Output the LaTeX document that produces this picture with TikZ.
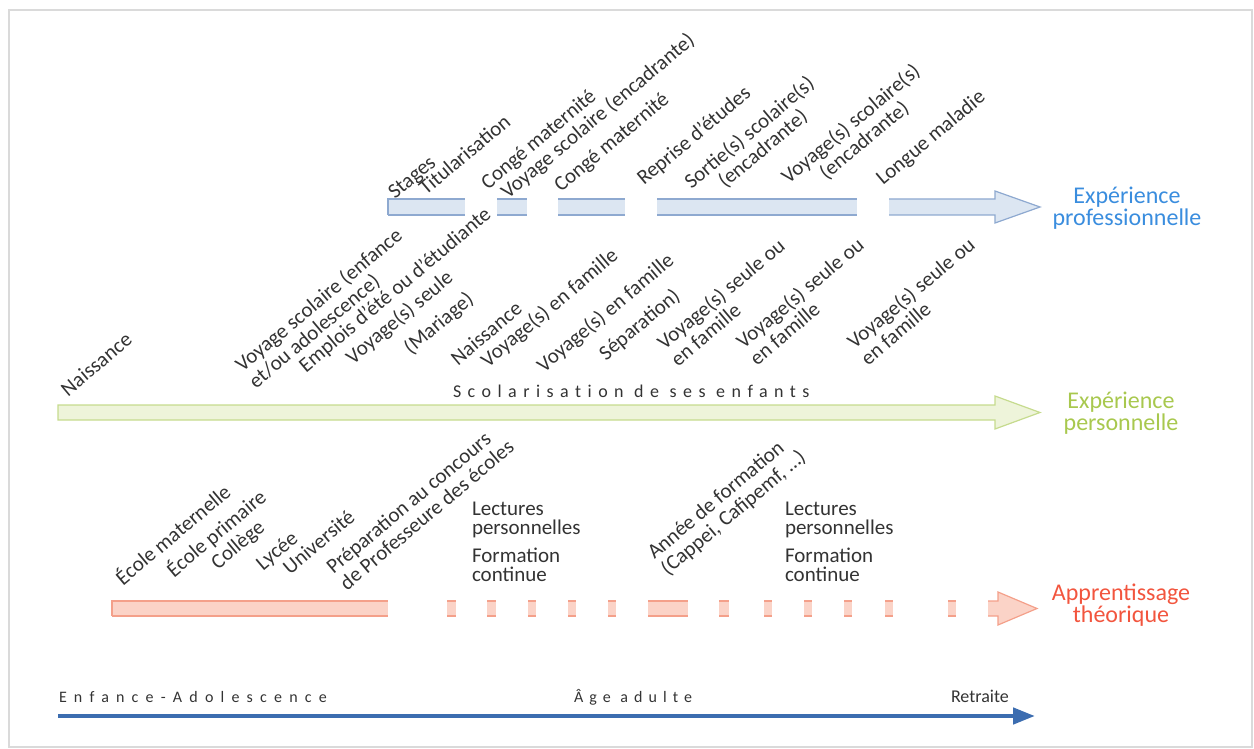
\documentclass[tikz,border=0pt]{standalone}
\usepackage{fontspec}
\setmainfont{Carlito}
\newfontfamily\spacedA[LetterSpace=45,Ligatures=NoCommon]{Carlito}
\newfontfamily\spacedB[LetterSpace=38,Ligatures=NoCommon]{Carlito}
\newfontfamily\spacedC[LetterSpace=36,Ligatures=NoCommon]{Carlito}
\usetikzlibrary{arrows.meta}
\definecolor{bluefill}{HTML}{DCE6F2}
\definecolor{blueline}{HTML}{8EA9D0}
\definecolor{bluetext}{HTML}{3A8DDE}
\definecolor{greenfill}{HTML}{EEF4DA}
\definecolor{greenline}{HTML}{C6DB8E}
\definecolor{greentext}{HTML}{A8C84E}
\definecolor{redfill}{HTML}{FBD3C7}
\definecolor{redline}{HTML}{F4A08A}
\definecolor{redtext}{HTML}{F2553E}
\definecolor{axiscol}{HTML}{3C6DB0}
\definecolor{txt}{HTML}{333333}
\definecolor{framecol}{HTML}{DADADA}
\newcommand\labfont{\fontsize{21}{21}\selectfont}
\newcommand\legfont{\fontsize{24}{22.5}\selectfont}
\begin{document}
\begin{tikzpicture}[x=1pt,y=-1pt,
  every node/.style={inner sep=0pt, outer sep=0pt, text=txt, font=\labfont},
  lbl/.style={rotate=40, anchor=base west, align=left},
  lblc/.style={rotate=40, anchor=base west, align=center},
  plain/.style={anchor=base west, align=left, font=\fontsize{21}{19}\selectfont},
  legend/.style={align=center, font=\legfont},
  bline/.style={draw=blueline, line width=1.2pt},
  gline/.style={draw=greenline, line width=1.2pt},
  rline/.style={draw=redline, line width=1.2pt}]
\useasboundingbox (0,0) rectangle (1254,749);
\draw[framecol, line width=1.5pt] (9,10) rectangle (1252,747);

% ---------- blue bar (professional experience)
\fill[bluefill] (388,199) rectangle (465,215);
\path[bline] (388,215) -- (388,199) -- (465,199) (388,215) -- (465,215);
\foreach \a/\b in {497/527, 558/625, 657/857}{
  \fill[bluefill] (\a,199) rectangle (\b,215);
  \path[bline] (\a,199) -- (\b,199) (\a,215) -- (\b,215);
}
\path[fill=bluefill, bline] (889,199) -- (995,199) -- (995,191) -- (1040,207) -- (995,223) -- (995,215) -- (889,215);

% ---------- green bar (personal experience)
\path[fill=greenfill, gline] (58,405) -- (995,405) -- (995,396) -- (1040,412.5) -- (995,429) -- (995,420) -- (58,420) -- cycle;

% ---------- red bar (theoretical learning)
\fill[redfill] (112,601) rectangle (388,616);
\path[rline] (112,616) -- (112,601) -- (388,601) (112,616) -- (388,616);
\foreach \a/\b in {447/456, 487/496, 528/536, 568/576, 608/616, 648/688, 719/729, 764/772, 804/812, 844/852, 885/893, 948/956}{
  \fill[redfill] (\a,601) rectangle (\b,616);
  \path[rline] (\a,601) -- (\b,601) (\a,616) -- (\b,616);
}
\path[fill=redfill, rline] (988,601) -- (998,601) -- (998,592) -- (1037,608.5) -- (998,625) -- (998,616) -- (988,616);

% ---------- legends
\node[legend, text=bluetext] (lpro) at (1127,208) {Expérience\\professionnelle};
\node[legend, text=greentext] (lper) at (1121,413) {Expérience\\personnelle};
\node[legend, text=redtext] (lthe) at (1121,605) {Apprentissage\\théorique};

% ---------- labels: professional
\node[lbl] (b1) at (395,200) {Stages};
\node[lbl] (b2) at (426,196) {Titularisation};
\node[lbl] (b3) at (488,190) {Congé maternité};
\node[lbl] (b4) at (508,200) {Voyage scolaire (encadrante)};
\node[lbl] (b5) at (561,193) {Congé maternité};
\node[lbl] (b6) at (644,186) {Reprise d’études};
\node[lblc] (b7) at (705,206) {Sortie(s) scolaire(s)\\(encadrante)};
\node[lblc] (b8) at (802,201) {Voyage(s) scolaire(s)\\(encadrante)};
\node[lbl] (b9) at (883,186) {Longue maladie};

% ---------- labels: personal
\node[lbl] (g1) at (68,397) {Naissance};
\node[lbl] (g2) at (256,389) {Voyage scolaire (enfance\\et/ou adolescence)};
\node[lbl] (g3) at (306,373) {Emplois d’été ou d’étudiante};
\node[lbl] (g4) at (353,365) {Voyage(s) seule};
\node[lbl] (g5) at (411,355) {(Mariage)};
\node[lbl] (g6) at (458,366) {Naissance};
\node[lbl] (g7) at (488,368) {Voyage(s) en famille};
\node[lbl] (g8) at (544,373) {Voyage(s) en famille};
\node[lbl] (g9) at (606,361) {Séparation)};
\node[lbl] (g10) at (678,367) {Voyage(s) seule ou\\en famille};
\node[lbl] (g11) at (757,366) {Voyage(s) seule ou\\en famille};
\node[lbl] (g12) at (868,366) {Voyage(s) seule ou\\en famille};
\node[anchor=base west, font={\spacedC\fontsize{18}{18}\selectfont}] (scol) at (453,397) {Scolarisation de ses enfants};

% ---------- labels: theoretical
\node[lbl] (r1) at (123,586) {École maternelle};
\node[lbl] (r2) at (174,578) {École primaire};
\node[lbl] (r3) at (218,570) {Collège};
\node[lbl] (r4) at (263,571) {Lycée};
\node[lbl] (r5) at (290,575) {Université};
\node[lbl] (r6) at (347,591) {Préparation au concours\\de Professeure des écoles};
\node[lbl] (r7) at (668,576) {Année de formation\\(Cappei, Cafipemf, …)};
\node[plain] (lec1) at (472,534) {Lectures\\personnelles};
\node[plain] (for1) at (472,581) {Formation\\continue};
\node[plain] (lec2) at (785,534) {Lectures\\personnelles};
\node[plain] (for2) at (785,581) {Formation\\continue};

% ---------- life axis
\coordinate (ax0) at (58,716);
\coordinate (ax1) at (1035,716);
\draw[axiscol, line width=4.5pt, -{Triangle[length=22pt,width=16pt]}] (ax0) -- (ax1);
\node[anchor=base west, font={\spacedA\fontsize{16}{16}\selectfont}] (enf) at (59,702) {Enfance-Adolescence};
\node[anchor=base west, font={\spacedB\fontsize{16}{16}\selectfont}] (adu) at (574,702) {Âge adulte};
\node[anchor=base west, font=\fontsize{18}{18}\selectfont] (ret) at (951,702) {Retraite};
\end{tikzpicture}
\end{document}
